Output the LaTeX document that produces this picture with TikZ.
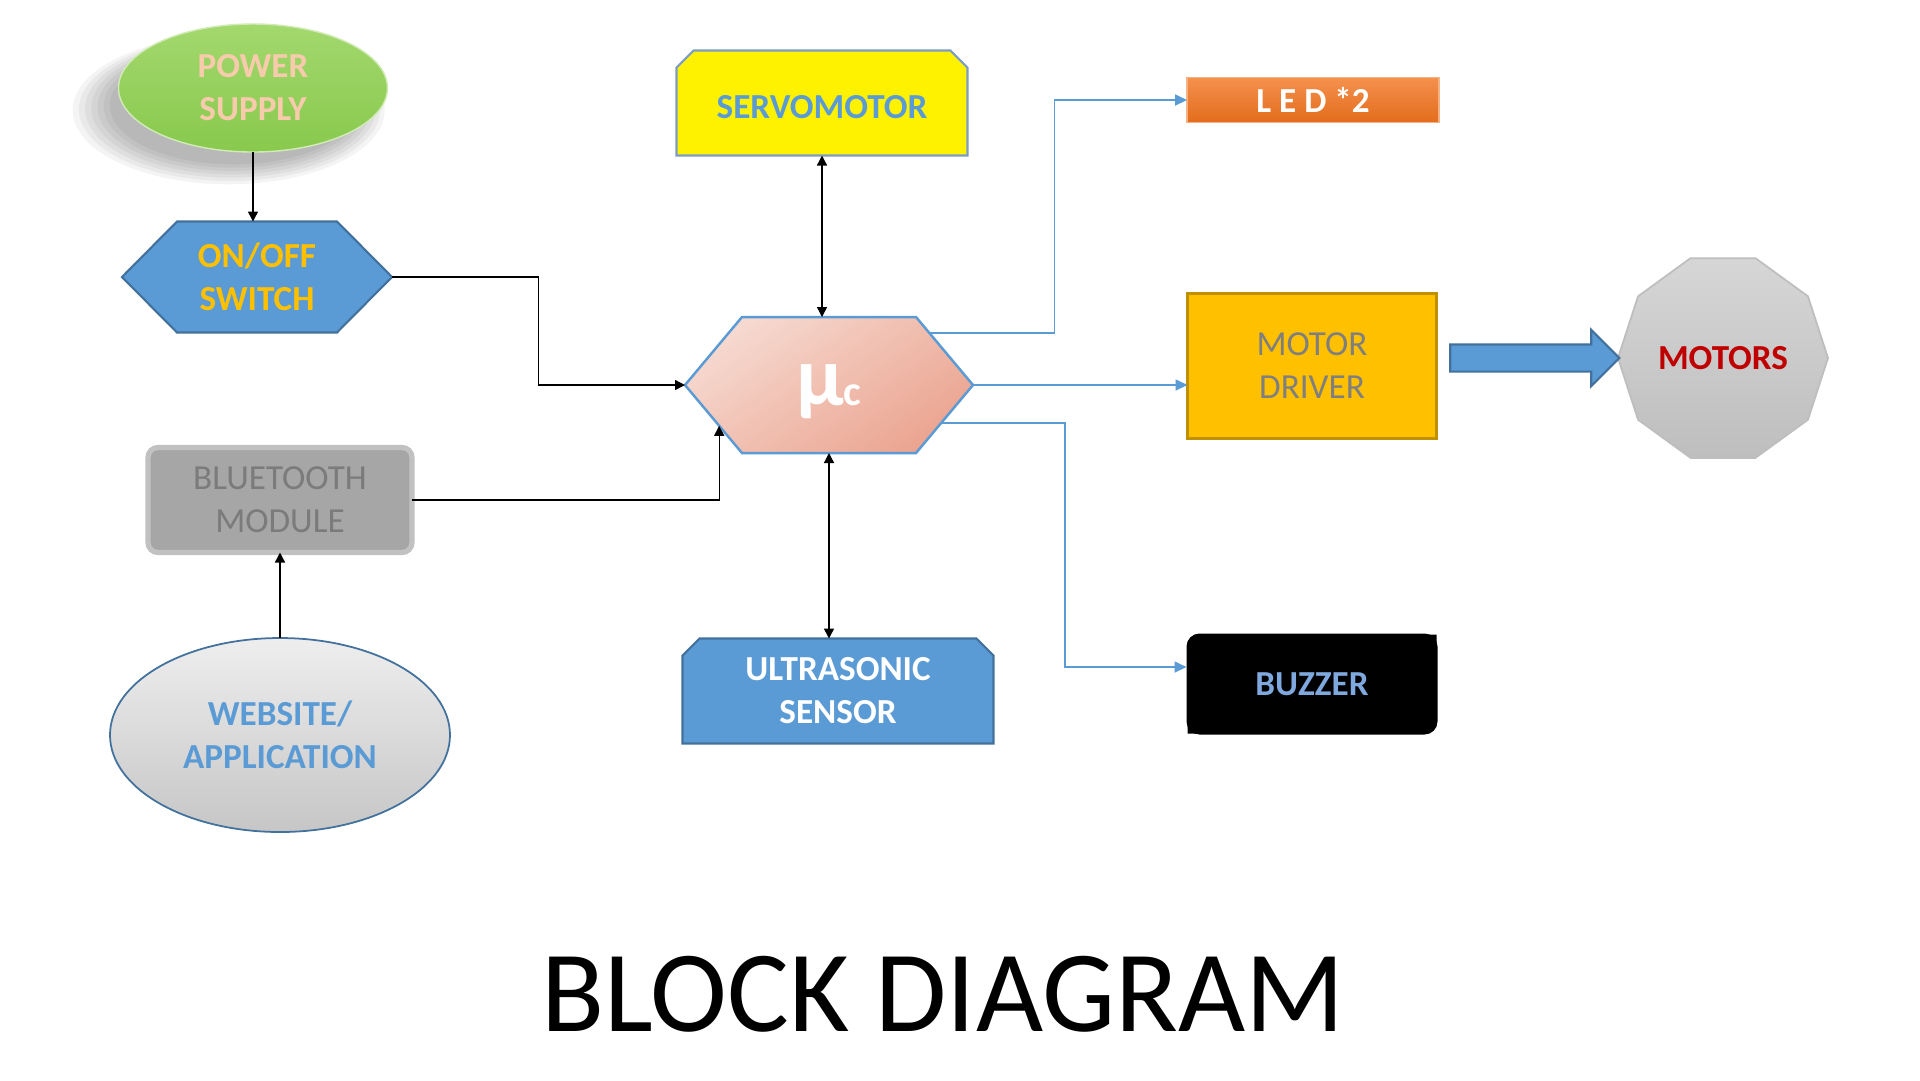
\documentclass[tikz,border=0pt]{standalone}
\usepackage{fontspec}
\setmainfont{Carlito}
\usetikzlibrary{positioning, arrows.meta, calc, backgrounds, shapes.geometric, shapes.arrows, shadows}

\definecolor{acblue}{HTML}{5B9BD5}
\definecolor{edgeblue}{HTML}{41719C}
\definecolor{psA}{HTML}{A3D86E}
\definecolor{psB}{HTML}{88C94D}
\definecolor{psorange}{HTML}{ED7D31}
\definecolor{gold}{HTML}{FFC000}
\definecolor{servoedge}{HTML}{7A9CC6}
\definecolor{ucA}{HTML}{F6D9D0}
\definecolor{ucB}{HTML}{EBA591}
\definecolor{btgray}{HTML}{A6A6A6}
\definecolor{bttext}{HTML}{7B7B7B}
\definecolor{webA}{HTML}{EEEEEE}
\definecolor{webB}{HTML}{C6C6C6}
\definecolor{ledA}{HTML}{F4914E}
\definecolor{ledB}{HTML}{E36C1C}
\definecolor{mdedge}{HTML}{BF9000}
\definecolor{mdtext}{HTML}{7F7F7F}
\definecolor{motA}{HTML}{D6D6D6}
\definecolor{motB}{HTML}{BEBEBE}
\definecolor{motred}{HTML}{C00000}
\definecolor{bzblue}{HTML}{7FA8DE}

% outlines drawn behind the named nodes
\newcommand{\hexpath}[2]{(#1.west) -- ($(#1.north west)+(#2,0)$) -- ($(#1.north east)+(-#2,0)$) -- (#1.east) -- ($(#1.south east)+(-#2,0)$) -- ($(#1.south west)+(#2,0)$) -- cycle}
\newcommand{\snippath}[2]{(#1.south west) -- ($(#1.north west)+(0,#2)$) -- ($(#1.north west)+(#2,0)$) -- ($(#1.north east)+(-#2,0)$) -- ($(#1.north east)+(0,#2)$) -- (#1.south east) -- cycle}
\newcommand{\lblfont}{\fontsize{10}{12.2}\selectfont}

\begin{document}
\begin{tikzpicture}[x=0.1mm,y=-0.1mm,font=\lblfont,>={Triangle[length=1mm,width=1mm]},
  lnk/.style={draw=black,line width=0.4pt},
  blu/.style={draw=acblue,line width=0.5pt,-{Triangle[length=1.2mm,width=1.1mm]}},
  lbl/.style={align=center,inner sep=0pt,outer sep=0pt},
  soft/.style={drop shadow={shadow xshift=-2.1mm,shadow yshift=-1.9mm,shadow scale=#1,opacity=.045,fill=black}},
  psnode/.style={lbl,ellipse,minimum width=2.69cm,minimum height=1.28cm,top color=psA,bottom color=psB,draw=psA!50!white,text=psorange!40!white,font=\lblfont\bfseries,
    soft=1.16,soft=1.12,soft=1.08,soft=1.04,soft=1.0,soft=0.96,soft=0.92},
  hexsw/.style={fill=acblue,draw=edgeblue,line width=0.6pt},
  hexuc/.style={top color=ucA,bottom color=ucB,shading angle=35,draw=acblue,line width=0.7pt},
  webnode/.style={lbl,ellipse,minimum width=3.4cm,minimum height=1.94cm,top color=webA,bottom color=webB,draw=edgeblue,line width=0.5pt,text=acblue,font=\lblfont\bfseries},
  btnode/.style={lbl,rectangle,rounded corners=1mm,minimum width=2.64cm,minimum height=1.05cm,fill=btgray,draw=btgray!70!white,line width=1.5pt,text=bttext},
  lednode/.style={lbl,rectangle,minimum width=2.52cm,minimum height=0.45cm,top color=ledA,bottom color=ledB,draw=ledA!70!white,line width=0.4pt,text=white,font=\lblfont\bfseries},
  mdnode/.style={lbl,rectangle,minimum width=2.49cm,minimum height=1.45cm,fill=gold,draw=mdedge,line width=0.7pt,text=mdtext},
  bznode/.style={lbl,rectangle,rounded corners=1.3mm,minimum width=2.51cm,minimum height=1.01cm,fill=black,text=bzblue,font=\lblfont\bfseries},
  bigarr/.style={single arrow,inner xsep=0pt,inner ysep=0.125cm,minimum height=1.69cm,single arrow head extend=0.145cm,fill=acblue,draw=edgeblue,line width=0.6pt}]
  \useasboundingbox (0,0) rectangle (1920,1080);

  \node[psnode](ps) at (253,88) {POWER\\SUPPLY};
  \node[lbl,minimum width=2.70cm,minimum height=1.11cm,text=gold,font=\lblfont\bfseries](sw) at (257,277) {ON/OFF\\SWITCH};
  \node[lbl,minimum width=2.88cm,minimum height=1.36cm,text depth=0pt,text=white,font=\bfseries](uc) at (829,385) {{\fontsize{24}{24}\selectfont µ}{\fontsize{12}{12}\selectfont c}};
  \node[lbl,minimum width=2.91cm,minimum height=1.05cm,text height=3.2mm,text=acblue,font=\lblfont\bfseries](servo) at (822,103) {SERVOMOTOR};
  \node[lbl,minimum width=3.11cm,minimum height=1.05cm,text=white,font=\lblfont\bfseries](us) at (838,691) {ULTRASONIC\\SENSOR};
  \node[btnode](bt) at (280,500) {BLUETOOTH\\MODULE};
  \node[webnode](web) at (280,735) {WEBSITE/\\APPLICATION};
  \node[lednode](led) at (1313,100) {L E D *2};
  \node[mdnode](md) at (1312,366) {MOTOR\\DRIVER};
  \node[lbl,minimum width=2.1cm,minimum height=2.1cm,text=motred,font=\lblfont\bfseries](mot) at (1723,358) {MOTORS};
  \node[bznode](bz) at (1312,684) {BUZZER};
  \node[bigarr](arr) at (1528,358) {};
  \node[inner sep=0pt,font=\fontsize{33}{40}\selectfont](ttl) at (943,994) {BLOCK DIAGRAM};

  \coordinate (uctr) at ($(uc.north east)+(-56,0)$);
  \coordinate (ucbr) at ($(uc.south east)+(-56,0)$);
  \coordinate (ucbl) at ($(uc.south west)+(57,0)$);
  \coordinate (ledout) at ($(uctr)!0.24!(uc.east)$);
  \coordinate (bzout) at ($(uc.east)!0.56!(ucbr)$);
  \coordinate (btin) at ($(uc.west)!0.6!(ucbl)$);
  \coordinate (ledbend) at ($(uc.east)!0.38!(md.west)$);
  \coordinate (bzbend) at ($(uc.east)!0.43!(md.west)$);

  \begin{scope}[on background layer]
    \fill[white] (0,0) rectangle (1920,1080);
    \draw[hexsw] \hexpath{sw}{55};
    \draw[hexuc] \hexpath{uc}{57};
    \draw[fill=yellow,draw=servoedge,line width=0.6pt] \snippath{servo}{17};
    \draw[hexsw] \snippath{us}{17};
    \fill[black] ($(bz.north east)+(-1,1)$) rectangle ++(-19,19) ($(bz.south west)+(1,-1)$) rectangle ++(19,-19);
    \begin{scope}[shift={(mot.center)}]
      \filldraw[top color=motA,bottom color=motB,draw=motB,line width=0.5pt]
        plot[samples at={0,36,...,324},variable=\t] ({105*cos(\t)},{105*sin(\t)}) -- cycle;
    \end{scope}
  \end{scope}

  \draw[lnk,->](ps.south)--(ps.south |- sw.north);
  \draw[lnk,->](sw.east)-|($(sw.east)!.5!(uc.west)$)|-(uc.west);
  \draw[lnk,->](bt.east)-|(btin);
  \draw[lnk,->](web.north)--(web.north |- bt.south);
  \draw[lnk,<->](servo.south)--(servo.south |- uc.north);
  \draw[lnk,<->](uc.south)--(uc.south |- us.north);
  \draw[blu](ledout)--(ledout -| ledbend)|-(led.west);
  \draw[blu](uc.east)--(uc.east -| md.west);
  \draw[blu](bzout)--(bzout -| bzbend)|-([yshift=1.7mm]bz.west);
\end{tikzpicture}
\end{document}
